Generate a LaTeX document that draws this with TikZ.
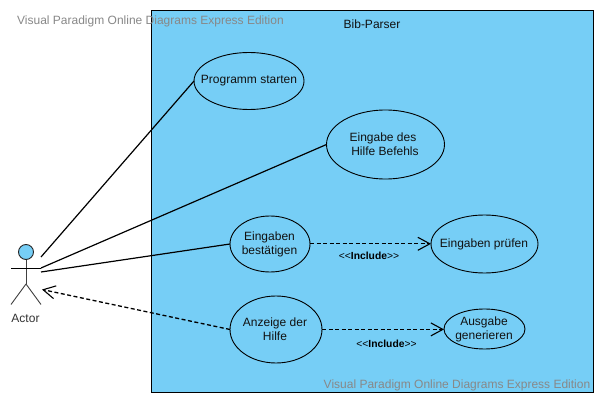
\documentclass[tikz,border=0pt]{standalone}
\usepackage{fontspec}
\setmainfont{Liberation Sans}
\usetikzlibrary{arrows.meta}
\definecolor{sysblue}{HTML}{76CEF6}
\definecolor{wmgray}{HTML}{888888}
\definecolor{inkc}{HTML}{111111}
\tikzset{
  x=1pt,y=-1pt,
  casetext/.style={font=\fontsize{12}{14}\selectfont,text=inkc,align=center,inner sep=0pt},
  caseshape/.style={draw=black,line width=0.9pt,fill=sysblue},
  assoc/.style={draw=black,line width=1.2pt},
  depline/.style={draw=black,line width=1.3pt,dash pattern=on 4pt off 2.5pt,-{Straight Barb[length=12pt,width=13pt,line width=1.1pt]}},
  inclabel/.style={font=\fontsize{10.3}{12}\selectfont,text=black,inner sep=0pt},
  watermark/.style={font=\fontsize{12}{14}\selectfont,text=wmgray,inner sep=0pt},
  limb/.style={draw=black!75,line width=0.9pt}
}
\begin{document}
\begin{tikzpicture}
\useasboundingbox (0,0) rectangle (606,406);
\fill[white] (0,0) rectangle (606,406);
\node[draw=black,line width=1pt,fill=sysblue,minimum width=442pt,minimum height=382.5pt,inner sep=0pt,outer sep=0pt,anchor=north west] (sys) at (151.5,10.5) {};
\node[casetext] (title) at (372,24.5) {Bib-Parser};

\path[caseshape] (249,81) ellipse [x radius=55,y radius=28.5];
\coordinate (e1w) at (194,81);
\node[casetext] (e1) at (249,81) {Programm starten};
\path[caseshape] (385.5,144.5) ellipse [x radius=59,y radius=34.5];
\coordinate (e2w) at (326.5,144.5);
\node[casetext] (e2) at (385,144.5) {Eingabe des\hspace*{4pt}\\ Hilfe Befehls};
\path[caseshape] (270,244) ellipse [x radius=40,y radius=28];
\coordinate (e3w) at (230,244);
\coordinate (e3e) at (310,243.8);
\node[casetext] (e3) at (269.5,244) {Eingaben\\bestätigen};
\path[caseshape] (484.5,244) ellipse [x radius=53.5,y radius=29];
\coordinate (e4w) at (431,243.8);
\node[casetext] (e4) at (484,244) {Eingaben prüfen};
\path[caseshape] (276,329.5) ellipse [x radius=46,y radius=33.5];
\coordinate (e5w) at (230,329.5);
\coordinate (e5e) at (322,329.4);
\node[casetext] (e5) at (275,329.5) {Anzeige der\\Hilfe};
\path[caseshape] (484.5,329) ellipse [x radius=40.5,y radius=20];
\coordinate (e6w) at (444,329.4);
\node[casetext] (e6) at (484,329) {Ausgabe\\generieren};

% actor
\path[limb] (26,259.5) -- (26,284);
\path[draw=black,line width=0.9pt] (11,268) -- (41,268);
\path[limb] (26,284) -- (11,304.5);
\path[limb] (26,284) -- (41,304.5);
\path[draw=black!85,line width=0.9pt,fill=sysblue] (26,252) circle [radius=7.5];
\node[casetext,text=black!80] (actor) at (25.5,318.5) {Actor};
\coordinate (a1) at (41,257);
\coordinate (a2) at (41,268);
\coordinate (a3) at (41,272);
\coordinate (a4) at (42,289.5);

\draw[assoc] (a1) -- (e1w);
\draw[assoc] (a2) -- (e2w);
\draw[assoc] (a3) -- (e3w);
\draw[depline] (e5w) -- (a4);
\draw[depline] (e3e) -- (e4w);
\draw[depline,line width=1pt] (e5e) -- (e6w);

\node[inclabel] (l1) at (369,256) {<{}<\textbf{Include}>{}>};
\node[inclabel] (l2) at (386.5,344) {<{}<\textbf{Include}>{}>};

\node[watermark,anchor=west] (w1) at (17,21.5) {Visual Paradigm Online Diagrams Express Edition};
\node[watermark,anchor=east] (w2) at (590.5,385.5) {Visual Paradigm Online Diagrams Express Edition};
\end{tikzpicture}
\end{document}
